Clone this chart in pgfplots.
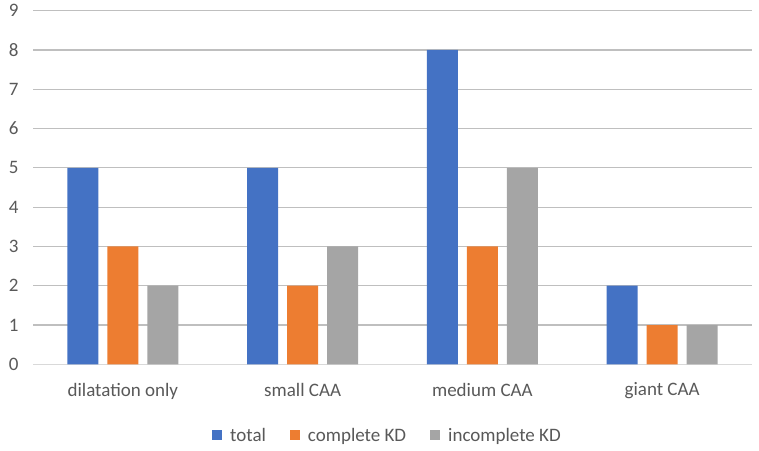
\documentclass[border=0pt]{standalone}
\usepackage{pgfplots}
\pgfplotsset{compat=1.18}
\usepackage{fontspec}
\setmainfont{Carlito}
\definecolor{cblue}{HTML}{4472C4}
\definecolor{corange}{HTML}{ED7D31}
\definecolor{cgray}{HTML}{A5A5A5}
\definecolor{grid}{HTML}{D9D9D9}
\definecolor{txt}{HTML}{595959}
\begin{document}
\begin{tikzpicture}[x=1pt,y=1pt]
\begin{axis}[
  at={(0,0)}, anchor=south west,
  scale only axis, width=719pt, height=353.7pt,
  ymin=0, ymax=9, ytick={0,...,9},
  xmin=-0.5, xmax=3.5,
  xtick={0,1,2,3},
  xticklabels={dilatation only, small CAA, medium CAA, giant CAA},
  ybar, bar width=31pt,
  xmajorgrids=false, ymajorgrids, grid style={grid, line width=1.2pt},
  axis x line*=bottom,
  axis y line*=left,
  x axis line style={draw=grid, line width=1.2pt, -},
  y axis line style={draw=none},
  tick style={draw=none},
  major tick length=0pt,
  tick label style={font=\fontsize{19}{22}\selectfont, text=txt},
  /pgf/number format/assume math mode=true,
  xticklabel style={yshift=-15pt},
  yticklabel style={anchor=east, xshift=-11pt},
  legend style={at={(0.493,-0.2007)}, anchor=center, draw=none, legend columns=3,
    font=\fontsize{19}{22}\selectfont, text=txt, inner sep=0pt,
    /tikz/every odd column/.append style={column sep=6pt},
    /tikz/every even column/.append style={column sep=22pt}},
  legend image code/.code={\fill[#1] (0pt,-4.5pt) rectangle (10pt,5.5pt);},
]
\addplot[fill=cblue, draw=none, bar shift=-40pt] coordinates {(0,5) (1,5) (2,8) (3,2)};
\addplot[fill=corange, draw=none, bar shift=0pt] coordinates {(0,3) (1,2) (2,3) (3,1)};
\addplot[fill=cgray, draw=none, bar shift=40pt] coordinates {(0,2) (1,3) (2,5) (3,1)};
\legend{total, complete KD, incomplete KD}
\end{axis}
\path[use as bounding box] (-33pt,-85.7pt) rectangle (726pt,364.3pt);
\end{tikzpicture}
\end{document}
